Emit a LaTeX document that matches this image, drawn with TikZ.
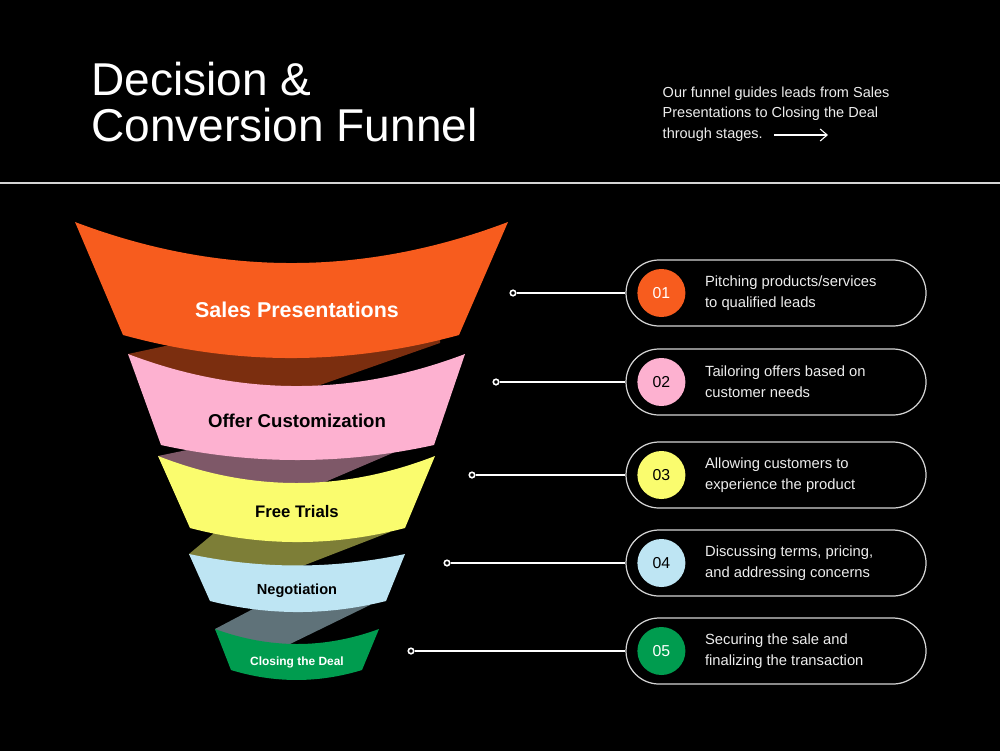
\documentclass[tikz,border=0pt]{standalone}
\usepackage{fontspec}
\setmainfont{Liberation Sans}
\usepackage{tikz}
\usetikzlibrary{arrows.meta, positioning}
\usepackage{xcolor}
\definecolor{funorange}{HTML}{F75C1E}
\definecolor{funpink}{HTML}{FDB1D0}
\definecolor{funyellow}{HTML}{FAFC6E}
\definecolor{funblue}{HTML}{BEE5F3}
\definecolor{fungreen}{HTML}{009C4F}
\definecolor{funline}{HTML}{D4D4D4}
\definecolor{funtext}{HTML}{EDEDED}

\begin{document}
\begin{tikzpicture}[
    stage/.style={anchor=base, align=center, inner sep=0pt},
    pill/.style={draw=funline, line width=0.35pt, rounded corners=0.33cm,
                 minimum width=3cm, minimum height=0.66cm, inner sep=0pt},
    num/.style={circle, minimum size=0.48cm, inner sep=0pt, outer sep=0pt,
                font=\fontsize{4.5}{5}\selectfont},
    desc/.style={text=funtext, align=left, inner sep=0pt,
                 font=\fontsize{4.2}{5.95}\selectfont},
    linkdot/.style={circle, draw=white, fill=black, line width=0.45pt,
                    minimum size=0.055cm, inner sep=0pt},
    link/.style={draw=white, line width=0.5pt}
  ]
    \useasboundingbox (0,0) rectangle (10,7.5);
    \fill[black] (-0.1,-0.1) rectangle (10.1,7.6);
    \node[anchor=north west, align=left, inner sep=0pt, text=white,
          font=\fontsize{13.1}{13.1}\selectfont] (title) at (0.905,6.89)
      {Decision \&\\Conversion Funnel};
    \node[anchor=north west, align=left, inner sep=0pt, text=funtext,
          font=\fontsize{4.13}{5.85}\selectfont] (intro) at (6.62,6.64)
      {Our funnel guides leads from Sales\\Presentations to Closing the Deal\\through stages.};
    \coordinate (arrowstart) at (7.74,6.15);
    \coordinate (arrowend) at (8.28,6.15);
    \draw[-{Straight Barb[length=2pt,width=3.4pt]}, white, line width=0.3pt] (arrowstart) -- (arrowend);
    \draw[funline, line width=0.45pt] (-0.1,5.67) -- (10.1,5.67);
    \fill[funorange!50!black] (1.28,3.96) -- (1.50,3.55) -- (2.825,3.518) -- (4.40,4.07)
      -- (4.40,4.17) -- (1.70,4.13) -- (1.70,4.05) -- cycle;
    \fill[funpink!50!black] (1.58,2.94) -- (1.75,2.65) -- (3.04,2.59) -- (3.95,2.98)
      -- (3.95,3.06) -- (1.87,3.08) -- (1.87,3.00) -- cycle;
    \fill[funyellow!50!black] (1.89,1.96) -- (2.02,1.75) -- (2.86,1.777) -- (3.90,2.18)
      -- (3.90,2.26) -- (2.13,2.24) -- (2.13,2.16) -- cycle;
    \fill[funblue!50!black] (2.15,1.21) -- (2.30,0.96) -- (2.66,0.943) -- (3.70,1.45)
      -- (3.70,1.53) -- (2.53,1.49) -- (2.53,1.41) -- cycle;
    \fill[funorange] (0.75,5.28) .. controls (2.193,4.733) and (3.637,4.733) .. (5.08,5.28)
      -- (4.59,4.15) .. controls (3.47,3.843) and (2.35,3.843) .. (1.23,4.15) -- cycle;
    \fill[funpink] (1.28,3.96) .. controls (2.403,3.533) and (3.527,3.533) .. (4.65,3.96)
      -- (4.34,3.05) .. controls (3.43,2.85) and (2.52,2.85) .. (1.61,3.05) -- cycle;
    \fill[funyellow] (1.58,2.94) .. controls (2.503,2.58) and (3.427,2.58) .. (4.35,2.94)
      -- (4.05,2.22) .. controls (3.333,2.033) and (2.617,2.033) .. (1.90,2.22) -- cycle;
    \fill[funblue] (1.89,1.96) .. controls (2.61,1.807) and (3.33,1.807) .. (4.05,1.96)
      -- (3.86,1.49) .. controls (3.273,1.343) and (2.687,1.343) .. (2.10,1.49) -- cycle;
    \fill[fungreen] (2.15,1.21) .. controls (2.697,1.01) and (3.243,1.01) .. (3.79,1.21)
      -- (3.62,0.80) .. controls (3.183,0.667) and (2.747,0.667) .. (2.31,0.80) -- cycle;
    \node[stage, text=white, font=\bfseries\fontsize{6.1}{7}\selectfont] (lab1) at (2.97,4.33) {Sales Presentations};
    \node[stage, text=black, font=\bfseries\fontsize{5.3}{6}\selectfont] (lab2) at (2.97,3.227) {Offer Customization};
    \node[stage, text=black, font=\bfseries\fontsize{4.75}{5}\selectfont] (lab3) at (2.97,2.327) {Free Trials};
    \node[stage, text=black, font=\bfseries\fontsize{4.15}{5}\selectfont] (lab4) at (2.97,1.56) {Negotiation};
    \node[stage, text=white, font=\bfseries\fontsize{3.4}{4}\selectfont] (lab5) at (2.97,0.85) {Closing the Deal};
    \node[pill] (p1) at (7.76,4.57) {};
    \node[num, fill=funorange, text=white, right=0.12cm of p1.west] (n1) {01};
    \node[desc, right=0.19cm of n1] (t1) {Pitching products/services\\to qualified leads};
    \node[linkdot] (d1) at (5.13,4.57) {};
    \draw[link] (d1) -- (p1);
    \node[pill] (p2) at (7.76,3.68) {};
    \node[num, fill=funpink, text=black, right=0.12cm of p2.west] (n2) {02};
    \node[desc, right=0.19cm of n2] (t2) {Tailoring offers based on\\customer needs};
    \node[linkdot] (d2) at (4.96,3.68) {};
    \draw[link] (d2) -- (p2);
    \node[pill] (p3) at (7.76,2.75) {};
    \node[num, fill=funyellow, text=black, right=0.12cm of p3.west] (n3) {03};
    \node[desc, right=0.19cm of n3] (t3) {Allowing customers to\\experience the product};
    \node[linkdot] (d3) at (4.72,2.75) {};
    \draw[link] (d3) -- (p3);
    \node[pill] (p4) at (7.76,1.87) {};
    \node[num, fill=funblue, text=black, right=0.12cm of p4.west] (n4) {04};
    \node[desc, right=0.19cm of n4] (t4) {Discussing terms, pricing,\\and addressing concerns};
    \node[linkdot] (d4) at (4.47,1.87) {};
    \draw[link] (d4) -- (p4);
    \node[pill] (p5) at (7.76,0.99) {};
    \node[num, fill=fungreen, text=white, right=0.12cm of p5.west] (n5) {05};
    \node[desc, right=0.19cm of n5] (t5) {Securing the sale and\\finalizing the transaction};
    \node[linkdot] (d5) at (4.11,0.99) {};
    \draw[link] (d5) -- (p5);
  \end{tikzpicture}
\end{document}
